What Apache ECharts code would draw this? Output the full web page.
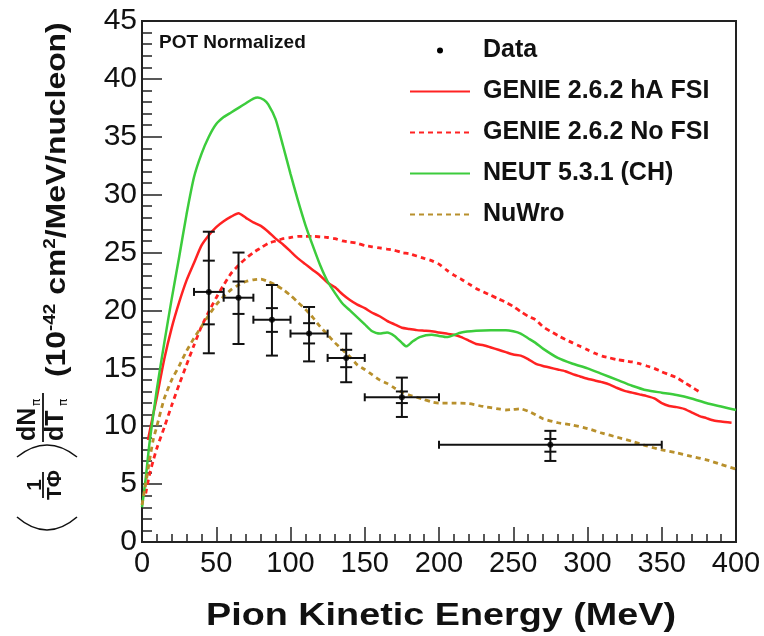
<!DOCTYPE html>
<html>
<head>
<meta charset="utf-8">
<script src="https://cdn.jsdelivr.net/npm/echarts@6/dist/echarts.min.js"></script>
<style>
  html, body { margin: 0; padding: 0; background: #fff; }
  #chart { width: 764px; height: 636px; }
</style>
</head>
<body>
<div id="chart"></div>
<script>
// data points (MeV bins, total and stat errors)
var dataX   = [45, 65, 87.5, 112.5, 137.5, 175, 275];
var dataY   = [21.6, 21.1, 19.2, 18.0, 15.9, 12.5, 8.4];
var binLo   = [35, 55, 75, 100, 125, 150, 200];
var binHi   = [55, 75, 100, 125, 150, 200, 350];
var totLo   = [16.3, 17.1, 16.1, 15.6, 13.8, 10.8, 7.0];
var totHi   = [26.8, 25.0, 22.2, 20.3, 18.0, 14.2, 9.6];
var statLo  = [18.8, 19.7, 18.15, 17.15, 15.1, 12.0, 7.8];
var statHi  = [24.3, 22.5, 20.2, 18.9, 16.6, 13.0, 8.9];

// GENIE 2.6.2 hA FSI
var genieT = [4, 7.5, 10, 15, 20, 25, 30, 35, 40, 45, 50, 55, 60, 65, 70, 75, 80, 85, 90, 95, 100, 105, 110, 115, 120, 125, 130, 135, 140, 145, 150, 155, 160, 165, 170, 175, 180, 185, 190, 195, 200, 205, 210, 215, 220, 225, 230, 235, 240, 245, 250, 255, 260, 265, 270, 275, 280, 285, 290, 295, 300, 305, 310, 315, 320, 325, 330, 335, 340, 345, 350, 355, 360, 365, 370, 375, 380, 385, 390, 397];
var genieV = [8.8, 11.0, 12.5, 15.8, 18.5, 20.7, 22.6, 24.1, 25.6, 26.5, 27.2, 27.7, 28.1, 28.4, 28.0, 27.6, 27.3, 26.8, 26.2, 25.7, 25.1, 24.5, 24.0, 23.5, 23.0, 22.4, 22.0, 21.4, 20.9, 20.5, 20.2, 19.8, 19.5, 19.1, 18.8, 18.5, 18.4, 18.3, 18.25, 18.2, 18.1, 18.0, 17.9, 17.7, 17.4, 17.1, 17.0, 16.8, 16.6, 16.4, 16.2, 16.1, 15.8, 15.4, 15.2, 15.05, 14.9, 14.75, 14.5, 14.3, 14.1, 13.95, 13.8, 13.6, 13.3, 13.05, 12.9, 12.75, 12.6, 12.4, 12.0, 11.75, 11.65, 11.5, 11.2, 10.9, 10.7, 10.5, 10.4, 10.3];

// GENIE 2.6.2 No FSI
var noFsiT = [2.5, 5, 7.5, 10, 15, 20, 25, 30, 35, 40, 45, 50, 55, 60, 65, 70, 75, 80, 85, 90, 95, 100, 105, 110, 115, 120, 125, 130, 135, 140, 145, 150, 155, 160, 165, 170, 175, 180, 185, 190, 195, 200, 205, 210, 215, 220, 225, 230, 235, 240, 245, 250, 255, 260, 265, 270, 275, 280, 285, 290, 295, 300, 305, 310, 315, 320, 325, 330, 335, 340, 345, 350, 355, 360, 365, 370, 375];
var noFsiV = [4.2, 5.8, 7.0, 8.1, 9.9, 11.8, 13.6, 15.3, 17.0, 18.6, 19.9, 21.1, 22.2, 23.2, 23.9, 24.5, 25.0, 25.4, 25.8, 26.0, 26.2, 26.3, 26.4, 26.4, 26.4, 26.35, 26.3, 26.2, 26.0, 25.9, 25.8, 25.6, 25.5, 25.4, 25.3, 25.2, 25.0, 24.9, 24.7, 24.5, 24.3, 24.0, 23.5, 23.05, 22.7, 22.3, 21.9, 21.6, 21.3, 21.0, 20.7, 20.35, 19.9, 19.5, 19.2, 18.6, 18.2, 17.85, 17.5, 17.2, 16.9, 16.6, 16.3, 16.05, 15.9, 15.75, 15.65, 15.55, 15.4, 15.2, 15.0, 14.7, 14.45, 14.2, 13.8, 13.4, 13.0];

// NEUT 5.3.1 (CH)
var neutT = [0, 2.5, 5, 10, 15, 20, 25, 30, 35, 40, 45, 50, 55, 60, 65, 70, 75, 78, 82, 85, 90, 95, 100, 105, 110, 115, 120, 125, 130, 135, 140, 145, 150, 155, 160, 165, 170, 175, 178, 182, 187, 195, 200, 205, 215, 225, 235, 245, 250, 255, 260, 265, 270, 280, 290, 300, 310, 320, 330, 340, 350, 360, 370, 380, 390, 400];
var neutV = [3.0, 5.5, 8.5, 13.2, 17.2, 21.0, 24.6, 28.3, 31.5, 33.5, 35.0, 36.1, 36.7, 37.1, 37.5, 37.9, 38.3, 38.4, 38.2, 37.8, 36.5, 34.2, 31.8, 29.5, 27.4, 25.6, 23.9, 22.5, 21.5, 20.6, 20.0, 19.4, 18.8, 18.2, 18.0, 18.1, 17.8, 17.2, 16.9, 17.3, 17.7, 17.9, 17.8, 17.7, 18.1, 18.25, 18.3, 18.3, 18.2, 18.0, 17.6, 17.2, 16.7, 15.9, 15.4, 15.0, 14.5, 14.0, 13.5, 13.1, 12.9, 12.7, 12.4, 12.0, 11.7, 11.4];

// NuWro
var nuwroT = [0, 2.5, 5, 7.5, 10, 15, 20, 25, 30, 35, 40, 45, 50, 55, 60, 65, 70, 75, 80, 85, 90, 95, 100, 105, 110, 115, 120, 125, 130, 135, 140, 145, 150, 155, 160, 165, 170, 175, 180, 185, 190, 195, 200, 210, 220, 230, 240, 245, 250, 255, 260, 265, 270, 280, 290, 300, 310, 320, 330, 340, 350, 360, 370, 380, 390, 400];
var nuwroV = [3.2, 5.0, 7.0, 8.8, 10.0, 12.4, 14.0, 15.2, 16.5, 17.6, 18.6, 19.6, 20.5, 21.2, 21.8, 22.2, 22.5, 22.65, 22.7, 22.5, 22.2, 21.8, 21.3, 20.7, 20.1, 19.4, 18.6, 17.9, 17.2, 16.6, 16.0, 15.3, 14.9, 14.45, 14.0, 13.7, 13.3, 12.95, 12.7, 12.5, 12.3, 12.1, 12.0, 12.0, 11.95, 11.7, 11.5, 11.4, 11.45, 11.5, 11.3, 11.0, 10.65, 10.3, 10.1, 9.8, 9.4, 9.05, 8.7, 8.3, 7.95, 7.7, 7.4, 7.1, 6.7, 6.3];

var xTicks = [0, 400, 50];
var yTicks = [0, 45, 5];

function pairs(xs, ys) {
    return xs.map(function (x, i) { return [x, ys[i]]; });
}

var FONT = '"Liberation Sans", Arial, Helvetica, sans-serif';
var INK = '#111';

var myChart = echarts.init(document.getElementById('chart'), null, { renderer: 'canvas' });

var errData = dataX.map(function (x, i) {
    return [x, dataY[i], binLo[i], binHi[i], totLo[i], totHi[i], statLo[i], statHi[i]];
});

function renderErr(params, api) {
    var c = api.coord([api.value(0), api.value(1)]);
    var l = api.coord([api.value(2), api.value(1)]);
    var r = api.coord([api.value(3), api.value(1)]);
    var tb = api.coord([api.value(0), api.value(4)]);
    var tt = api.coord([api.value(0), api.value(5)]);
    var sb = api.coord([api.value(0), api.value(6)]);
    var st = api.coord([api.value(0), api.value(7)]);
    var st2 = { stroke: INK, lineWidth: 2 };
    function seg(x1, y1, x2, y2) {
        return { type: 'line', shape: { x1: x1, y1: y1, x2: x2, y2: y2 }, style: st2 };
    }
    return {
        type: 'group',
        children: [
            seg(l[0], c[1], r[0], c[1]),
            seg(l[0], c[1] - 4, l[0], c[1] + 4),
            seg(r[0], c[1] - 4, r[0], c[1] + 4),
            seg(c[0], tb[1], c[0], tt[1]),
            seg(c[0] - 6, tb[1], c[0] + 6, tb[1]),
            seg(c[0] - 6, tt[1], c[0] + 6, tt[1]),
            seg(c[0] - 6, sb[1], c[0] + 6, sb[1]),
            seg(c[0] - 6, st[1], c[0] + 6, st[1])
        ]
    };
}

var option = {
    animation: false,
    backgroundColor: '#fff',
    grid: {
        left: 142, top: 21, width: 594, height: 521,
        show: true, borderColor: '#222', borderWidth: 2,
        containLabel: false, outerBoundsMode: 'none'
    },
    legend: {
        orient: 'vertical',
        left: 409, top: 38,
        padding: 0,
        itemWidth: 60, itemHeight: 6, itemGap: 16,
        itemStyle: { opacity: 0 },
        textStyle: { fontSize: 25, fontWeight: 'bold', color: INK, fontFamily: FONT, lineHeight: 25, padding: [0, 0, 0, 8] },
        data: [
            { name: 'Data', itemStyle: { opacity: 1, color: '#000' } },
            'GENIE 2.6.2 hA FSI', 'GENIE 2.6.2 No FSI', 'NEUT 5.3.1 (CH)', 'NuWro'
        ]
    },
    xAxis: {
        type: 'value', min: xTicks[0], max: xTicks[1], interval: xTicks[2],
        axisLine: { show: true, lineStyle: { color: '#222', width: 2 } },
        axisTick: { show: true, inside: true, length: 15, lineStyle: { color: '#222', width: 1.5 } },
        minorTick: { show: true, splitNumber: 5, length: 8, lineStyle: { color: '#222', width: 1.5 } },
        splitLine: { show: false },
        axisLabel: { fontSize: 29, color: INK, fontFamily: FONT, margin: 7 }
    },
    yAxis: {
        type: 'value', min: yTicks[0], max: yTicks[1], interval: yTicks[2],
        axisLine: { show: true, lineStyle: { color: '#222', width: 2 } },
        axisTick: { show: true, inside: true, length: 20, lineStyle: { color: '#222', width: 1.5 } },
        minorTick: { show: true, splitNumber: 5, length: 10, lineStyle: { color: '#222', width: 1.5 } },
        splitLine: { show: false },
        axisLabel: { fontSize: 30, color: INK, fontFamily: FONT, margin: 5 }
    },
    series: [
        {
            name: 'GENIE 2.6.2 hA FSI', type: 'line', data: pairs(genieT, genieV),
            symbol: 'none', smooth: 0.2, z: 3,
            lineStyle: { color: '#ff2222', width: 2.5 }, itemStyle: { color: '#ff2222' }
        },
        {
            name: 'GENIE 2.6.2 No FSI', type: 'line', data: pairs(noFsiT, noFsiV),
            symbol: 'none', smooth: 0.2, z: 3,
            lineStyle: { color: '#ff2222', width: 2.8, type: [5, 4] }, itemStyle: { color: '#ff2222' }
        },
        {
            name: 'NEUT 5.3.1 (CH)', type: 'line', data: pairs(neutT, neutV),
            symbol: 'none', smooth: 0.2, z: 3,
            lineStyle: { color: '#3ccc3c', width: 2.5 }, itemStyle: { color: '#3ccc3c' }
        },
        {
            name: 'NuWro', type: 'line', data: pairs(nuwroT, nuwroV),
            symbol: 'none', smooth: 0.2, z: 3,
            lineStyle: { color: '#b8902c', width: 2.8, type: [5, 4] }, itemStyle: { color: '#b8902c' }
        },
        {
            name: 'errors', type: 'custom', data: errData, renderItem: renderErr,
            encode: { x: 0, y: 1 }, z: 5, silent: true
        },
        {
            name: 'Data', type: 'scatter', data: pairs(dataX, dataY),
            symbol: 'circle', symbolSize: 6, z: 6,
            itemStyle: { color: '#000' }
        }
    ],
    graphic: [
        {
            type: 'text', x: 159, y: 43,
            style: { text: 'POT Normalized', font: 'bold 19px ' + FONT, fill: INK, textAlign: 'left', textVerticalAlign: 'middle', align: 'left', verticalAlign: 'middle' }
        },
        {
            type: 'text', x: 441, y: 616, scaleX: 1.18,
            style: { text: 'Pion Kinetic Energy (MeV)', font: 'bold 32px ' + FONT, fill: INK, textAlign: 'center', textVerticalAlign: 'middle', align: 'center', verticalAlign: 'middle' }
        },
        {
            // y axis title, drawn rotated
            type: 'group', x: 43, y: 470, rotation: Math.PI / 2,
            children: [
                { type: 'bezierCurve', shape: { x1: -47, y1: -26, x2: -47, y2: 34, cpx1: -73, cpy1: 4 }, style: { stroke: INK, lineWidth: 1.6, fill: null } },
                { type: 'text', x: -15, y: -8, style: { text: '1', font: 'bold 21px ' + FONT, fill: INK, textAlign: 'center', textVerticalAlign: 'middle', align: 'center', verticalAlign: 'middle' } },
                { type: 'line', shape: { x1: -28, y1: 0, x2: -2, y2: 0 }, style: { stroke: INK, lineWidth: 1.8 } },
                { type: 'text', x: -15, y: 12, style: { text: 'TΦ', font: 'bold 21px ' + FONT, fill: INK, textAlign: 'center', textVerticalAlign: 'middle', align: 'center', verticalAlign: 'middle' } },
                { type: 'bezierCurve', shape: { x1: 13, y1: -26, x2: 13, y2: 34, cpx1: 37, cpy1: 4 }, style: { stroke: INK, lineWidth: 1.6, fill: null } },
                { type: 'text', x: 29, y: -15, style: { text: 'dN', font: 'bold 25px ' + FONT, fill: INK, textAlign: 'left', textVerticalAlign: 'middle', align: 'left', verticalAlign: 'middle' } },
                { type: 'text', x: 64, y: -6, style: { text: 'π', font: '12px "DejaVu Sans", sans-serif', fill: INK, textAlign: 'left', textVerticalAlign: 'middle', align: 'left', verticalAlign: 'middle' } },
                { type: 'line', shape: { x1: 28, y1: 0, x2: 77, y2: 0 }, style: { stroke: INK, lineWidth: 1.8 } },
                { type: 'text', x: 29, y: 13, style: { text: 'dT', font: 'bold 25px ' + FONT, fill: INK, textAlign: 'left', textVerticalAlign: 'middle', align: 'left', verticalAlign: 'middle' } },
                { type: 'text', x: 64, y: 21, style: { text: 'π', font: '12px "DejaVu Sans", sans-serif', fill: INK, textAlign: 'left', textVerticalAlign: 'middle', align: 'left', verticalAlign: 'middle' } },
                {
                    type: 'text', x: 93, y: 14, scaleX: 1.18,
                    style: {
                        text: '{m|(10}{s|-42}{m| cm}{s|2}{m|/MeV/nucleon)}',
                        fill: INK, textAlign: 'left', textVerticalAlign: 'middle', align: 'left', verticalAlign: 'middle',
                        rich: {
                            m: { fontSize: 27, fontWeight: 'bold', fontFamily: FONT, fill: INK, lineHeight: 28, verticalAlign: 'bottom' },
                            s: { fontSize: 16, fontWeight: 'bold', fontFamily: FONT, fill: INK, lineHeight: 16, verticalAlign: 'top' }
                        }
                    }
                }
            ]
        }
    ]
};
myChart.setOption(option);
</script>
</body>
</html>
